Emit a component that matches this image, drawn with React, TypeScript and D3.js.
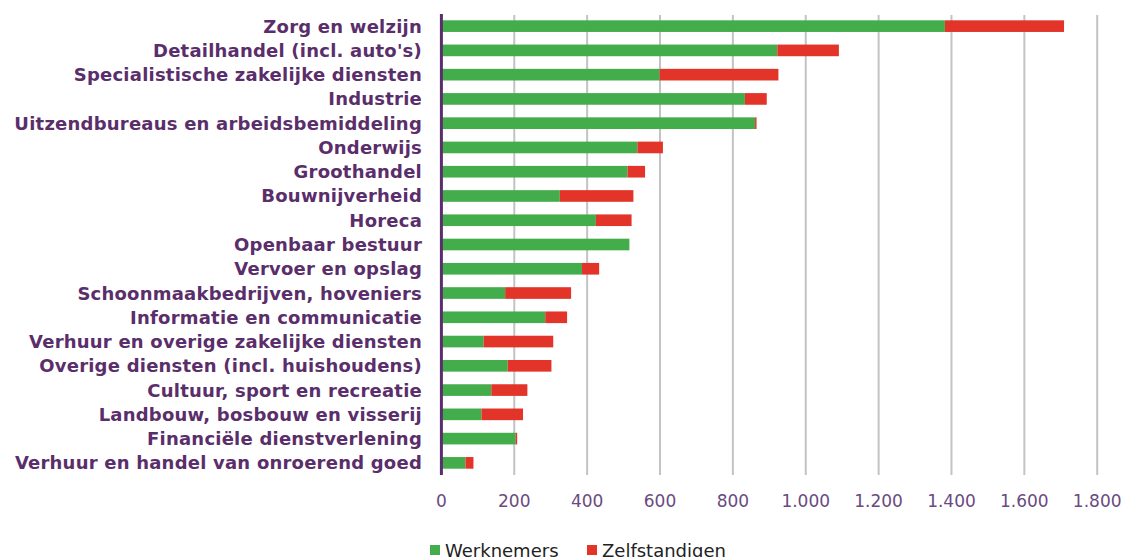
import React, { useEffect } from "react";
import * as d3 from "d3";

const categories = [
  "Zorg en welzijn",
  "Detailhandel (incl. auto's)",
  "Specialistische zakelijke diensten",
  "Industrie",
  "Uitzendbureaus en arbeidsbemiddeling",
  "Onderwijs",
  "Groothandel",
  "Bouwnijverheid",
  "Horeca",
  "Openbaar bestuur",
  "Vervoer en opslag",
  "Schoonmaakbedrijven, hoveniers",
  "Informatie en communicatie",
  "Verhuur en overige zakelijke diensten",
  "Overige diensten (incl. huishoudens)",
  "Cultuur, sport en recreatie",
  "Landbouw, bosbouw en visserij",
  "Financiële dienstverlening",
  "Verhuur en handel van onroerend goed",
];

const werknemers = [1382, 922, 599, 833, 861, 538, 511, 325, 424, 516, 386, 175, 285, 116, 182, 137, 110, 204, 66];
const zelfstandigen = [327, 169, 326, 60, 4, 70, 48, 202, 98, 0, 47, 181, 60, 191, 120, 99, 114, 4, 22];

const tickValues = [0, 200, 400, 600, 800, 1000, 1200, 1400, 1600, 1800];
const tickLabels = ["0", "200", "400", "600", "800", "1.000", "1.200", "1.400", "1.600", "1.800"];

const seriesNames = ["Werknemers", "Zelfstandigen"];
const seriesColors = ["#43ad4b", "#e23428"];

const W = 1125;
const H = 557;

export default function App() {
  useEffect(() => {
    document.body.style.margin = "0";
  }, []);

  const x = d3.scaleLinear().domain([0, 1800]).range([441.4, 1097.2]);
  const y = d3.scaleBand<string>().domain(categories).range([14, 475]).paddingInner(0.52).paddingOuter(0.26);

  const rows = categories.map((c, i) => ({ c, w: werknemers[i], z: zelfstandigen[i] }));
  const stack = d3.stack<any>().keys(["w", "z"])(rows as any);

  const labelColor = "#5a2e6a";
  const tickColor = "#6a4a80";

  return (
    <svg width={W} height={H} style={{ position: "absolute", left: 0, top: 0, background: "#fff" }}>
      {/* gridlines */}
      {tickValues.slice(1).map((t) => (
        <line key={t} x1={x(t)} x2={x(t)} y1={15} y2={475} stroke="#c3c3c3" strokeWidth={2} />
      ))}
      {/* bars */}
      {stack.map((s, si) => (
        <g key={si} fill={seriesColors[si]}>
          {s.map((d: any, i: number) => {
            const w = x(d[1]) - x(d[0]);
            if (w <= 0) return null;
            return (
              <rect key={i} x={x(d[0])} y={y(categories[i])!} width={w} height={y.bandwidth()} />
            );
          })}
        </g>
      ))}
      {/* axis line */}
      <line x1={x(0)} x2={x(0)} y1={14} y2={475} stroke="#5a2d6b" strokeWidth={3} />
      {/* category labels */}
      {categories.map((c) => (
        <text
          key={c}
          x={422}
          y={y(c)! + y.bandwidth() / 2 + 6.5}
          textAnchor="end"
          fontFamily="'DejaVu Sans', Verdana, sans-serif"
          fontWeight="bold"
          fontSize={18}
          letterSpacing={0.22}
          fill={labelColor}
        >
          {c}
        </text>
      ))}
      {/* tick labels */}
      {tickValues.map((t, i) => (
        <text
          key={t}
          x={x(t)}
          y={507}
          textAnchor="middle"
          fontFamily="'DejaVu Sans', Verdana, sans-serif"
          fontSize={17}
          fill={tickColor}
        >
          {tickLabels[i]}
        </text>
      ))}
      {/* legend */}
      {seriesNames.map((n, i) => {
        const lx = i === 0 ? 430 : 587;
        return (
          <g key={n}>
            <rect x={lx} y={545} width={10} height={10} fill={seriesColors[i]} />
            <text
              x={lx + 15}
              y={556.5}
              fontFamily="'DejaVu Sans', Verdana, sans-serif"
              fontSize={18}
              fill="#222"
            >
              {n}
            </text>
          </g>
        );
      })}
    </svg>
  );
}
